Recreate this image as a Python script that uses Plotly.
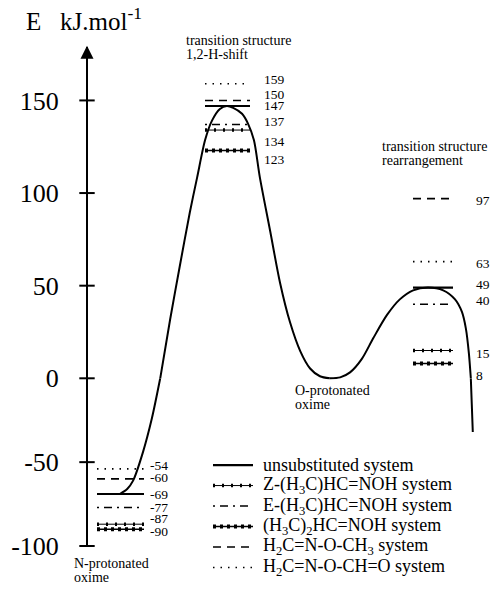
import plotly.graph_objects as go

# ---------------- data ----------------
series_keys = ["unsub", "Z", "E", "dimethyl", "OCH3", "OCHO"]
legend_texts = [
    "unsubstituted system",
    "Z-(H<sub>3</sub>C)HC=NOH system",
    "E-(H<sub>3</sub>C)HC=NOH system",
    "(H<sub>3</sub>C)<sub>2</sub>HC=NOH system",
    "H<sub>2</sub>C=N-O-CH<sub>3</sub> system",
    "H<sub>2</sub>C=N-O-CH=O system",
]
# energies (kJ/mol) for each series, in series_keys order
E_N_protonated = [-69, -87, -77, -90, -60, -54]
E_TS_12Hshift = [147, 134, 137, 123, 150, 159]
E_TS_rearr = [49, 15, 40, 8, 97, 63]

# schematic reaction profile of the unsubstituted system (reaction coordinate 0-100, energy kJ/mol)
curve_rc = [24.3, 25.8, 27.0, 29.0, 30.8, 32.5, 34.5, 36.5, 38.5, 40.0, 41.6, 43.0, 44.6,
            46.0, 47.3, 49.1, 50.3, 51.5, 52.7, 54.8, 56.8, 58.8, 60.9, 62.9, 64.9, 66.9,
            69.0, 71.0, 73.4, 75.7, 78.5, 81.1, 83.8, 86.8, 89.9, 92.3, 93.7, 94.5, 95.1,
            95.5, 95.7, 95.9]
curve_E = [-69, -66, -61, -44, -24, 0, 31.6, 61, 89.5, 108.6, 128.6, 139.1, 145.4,
           147, 146, 142.8, 137.5, 128.6, 108.6, 79.5, 51.6, 30.5, 14.7, 5.3, 1.1, 0,
           0.5, 3.2, 10.5, 21.6, 34.2, 42.6, 47.5, 49, 47.5, 42.6, 35.8, 26.8, 13.7,
           0, -15.7, -32]

upper_ticks = [0, 50, 100, 150]
lower_ticks = [-50, -100]

# ---------------- layout helpers ----------------
W, H = 493, 600
FONT = "Liberation Serif"


def px(x):
    return x / W


def py(y):
    return 1 - y / H


def rc(xpix):  # pixel -> reaction coordinate units (range 0..100 over full width)
    return xpix / W * 100


AXIS_X = 87
styles = {
    "unsub": [dict(width=2.2, dash="solid")],
    "Z": [dict(width=1, dash="solid"), dict(width=3.5, dash="2px,7px")],
    "E": [dict(width=1.5, dash="2px,5px,8px,5px")],
    "dimethyl": [dict(width=1.4, dash="solid"), dict(width=4, dash="3px,4px")],
    "OCH3": [dict(width=1.6, dash="8px,6px")],
    "OCHO": [dict(width=1.6, dash="1.5px,6px")],
}

fig = go.Figure()


def yax(v):
    return "y" if v >= 0 else "y2"


# curve split at the axis break (energy 0)
segs = []
cur = [(curve_rc[0], curve_E[0])]
for i in range(1, len(curve_E)):
    cur.append((curve_rc[i], curve_E[i]))
    if curve_E[i] == 0 and i < len(curve_E) - 1:
        segs.append(cur)
        cur = [(curve_rc[i], curve_E[i])]
segs.append(cur)
for s in segs:
    xs = [p[0] for p in s]
    ys = [p[1] for p in s]
    side = "y2" if min(ys) < 0 else "y"
    fig.add_trace(go.Scatter(x=xs, y=ys, yaxis=side, mode="lines",
                             line=dict(color="black", width=2, shape="spline", smoothing=0.8),
                             showlegend=False, hoverinfo="skip"))

# level lines: (values, x extent in px, label x in px, label y-shifts in px)
groups = [
    (E_N_protonated, (97, 144), 149, [0, 6, 0, -2, 1, 3]),
    (E_TS_12Hshift, (205, 250), 263, [0, -11, 3, -9, 6, 4]),
    (E_TS_rearr, (413, 453), 475, [3, -3, 4, -12, -2, -2]),
]
for values, (x0, x1), lx, shifts in groups:
    for k, v, sh in zip(series_keys, values, shifts):
        for st in styles[k]:
            fig.add_trace(go.Scatter(x=[rc(x0), rc(x1)], y=[v, v], yaxis=yax(v), mode="lines",
                                     line=dict(color="black", **st),
                                     showlegend=False, hoverinfo="skip"))
        fig.add_annotation(x=rc(lx), y=v, xref="x", yref=yax(v), text=str(v), showarrow=False,
                           xanchor="left", yanchor="middle", yshift=sh, borderpad=0,
                           font=dict(family=FONT, size=13.5, color="black"))

# axis tick marks crossing the axis line
fig.add_trace(go.Scatter(x=[rc(AXIS_X)] * len(upper_ticks), y=upper_ticks, yaxis="y", mode="markers",
                         marker=dict(symbol="line-ew", size=11, line=dict(width=2, color="black")),
                         showlegend=False, hoverinfo="skip", cliponaxis=False))
fig.add_trace(go.Scatter(x=[rc(AXIS_X)] * len(lower_ticks), y=lower_ticks, yaxis="y2", mode="markers",
                         marker=dict(symbol="line-ew", size=11, line=dict(width=2, color="black")),
                         showlegend=False, hoverinfo="skip", cliponaxis=False))

# manual legend
leg_y0, leg_dy = 477, 21
for i, (k, t) in enumerate(zip(series_keys, legend_texts)):
    yy = leg_y0 + i * leg_dy
    for st in styles[k]:
        fig.add_shape(type="line", xref="paper", yref="paper", x0=px(213), x1=px(253),
                      y0=py(yy), y1=py(yy), line=dict(color="black", **st))
    fig.add_annotation(x=px(262), y=py(yy), xref="paper", yref="paper", text=t, showarrow=False,
                       xanchor="left", yanchor="middle", borderpad=0,
                       font=dict(family=FONT, size=18, color="black"))

# texts
texts = [
    ("E\u00a0\u00a0\u00a0kJ.mol<sup>-1</sup>", 25, 20, 25),
    ("transition structure", 185, 42, 14),
    ("1,2-H-shift", 185, 56, 14),
    ("transition structure", 381, 150, 14),
    ("rearrangement", 381, 165, 14),
    ("O-protonated", 294, 401, 14),
    ("oxime", 294, 415, 14),
    ("N-protonated", 73, 578, 14),
    ("oxime", 73, 592, 14),
]
for t, x, y, s in texts:
    fig.add_annotation(x=px(x), y=py(y), xref="paper", yref="paper", text=t, showarrow=False,
                       xanchor="left", yanchor="middle", borderpad=0,
                       font=dict(family=FONT, size=s, color="black"))

# arrow head on top of the energy axis
fig.add_annotation(x=px(AXIS_X), y=py(47), xref="paper", yref="paper", text="", showarrow=True,
                   ax=0, ay=28, arrowhead=2, arrowsize=1.3, arrowwidth=2, arrowcolor="black")

# axes: upper (>=0) and lower (<0) energy axes stacked to mimic the drawing's scale
up_bottom, up_top = 393.7, 48
lo_bottom, lo_top = 560, 388
slope_up = 1.9
fig.update_layout(
    width=W, height=H, autosize=False,
    margin=dict(l=0, r=0, t=0, b=0),
    paper_bgcolor="white", plot_bgcolor="rgba(0,0,0,0)",
    showlegend=False,
    xaxis=dict(range=[0, 100], domain=[0, 1], visible=False, fixedrange=True),
    yaxis=dict(domain=[py(up_bottom), py(up_top)],
               range=[-(up_bottom - 388) / slope_up, (388 - up_top) / slope_up],
               anchor="free", position=px(AXIS_X), showline=True, linewidth=2, linecolor="black",
               showgrid=False, zeroline=False, ticks="", tickvals=upper_ticks,
               ticktext=[str(v) for v in upper_ticks], ticklabelstandoff=22,
               tickfont=dict(family=FONT, size=26, color="black")),
    yaxis2=dict(domain=[py(lo_bottom), py(lo_top)], range=[-100, 0],
                anchor="free", position=px(AXIS_X), showline=True, linewidth=2, linecolor="black",
                showgrid=False, zeroline=False, ticks="", tickvals=lower_ticks,
                ticktext=[str(v) for v in lower_ticks], ticklabelstandoff=22,
                tickfont=dict(family=FONT, size=26, color="black")),
)

post = (
    "var de=document.documentElement,b=document.body;"
    "de.style.margin='0';b.style.margin='0';de.style.padding='0';b.style.padding='0';"
    "de.style.overflow='hidden';b.style.overflow='hidden';"
    "var g=document.getElementById('{plot_id}');"
    "g.style.position='absolute';g.style.left='0px';g.style.top='0px';"
)
fig.write_html("out.html", config={"displayModeBar": False, "responsive": False},
               post_script=post)
